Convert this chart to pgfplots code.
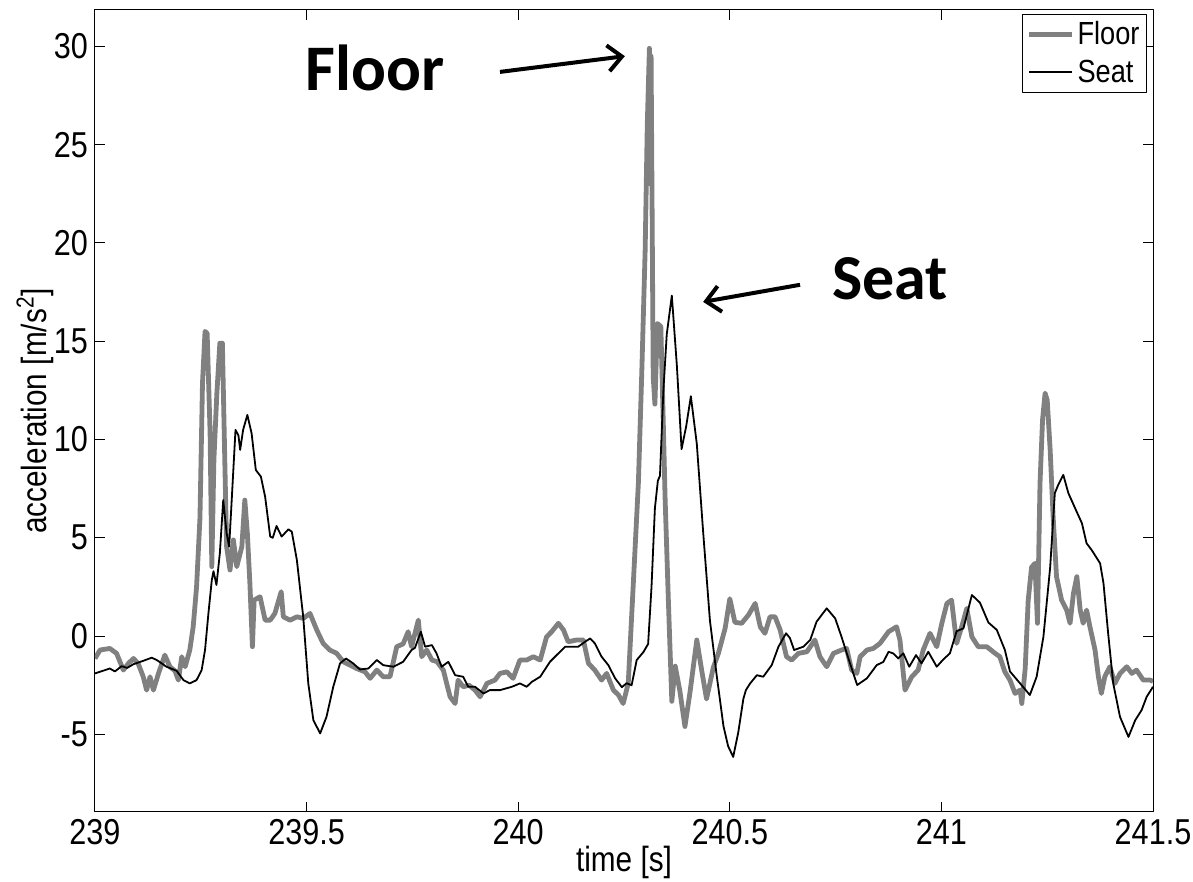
\documentclass[border=0pt]{standalone}
\usepackage{pgfplots}
\pgfplotsset{compat=1.18}
\usepackage{fontspec}
\setmainfont[FakeStretch=0.85]{Liberation Sans}
\newfontfamily\annot{Carlito}
\usetikzlibrary{arrows.meta}
\definecolor{floorgray}{RGB}{128,128,128}
\begin{document}
\begin{tikzpicture}
\begin{axis}[
  scale only axis, width=529pt, height=401pt,
  xmin=239, xmax=241.5, ymin=-8.95, ymax=31.85,
  xtick={239,239.5,240,240.5,241,241.5},
  xticklabels={239,239.5,240,240.5,241,241.5},
  ytick={-5,0,5,10,15,20,25,30},
  yticklabels={-5,0,5,10,15,20,25,30},
  tick align=inside, major tick length=5pt,
  tick style={black, line width=0.5pt},
  axis line style={black, line width=0.5pt},
  tick label style={font=\fontsize{18}{21}\selectfont},
  xlabel={time [s]},
  ylabel={acceleration [m/s\textsuperscript{2}]},
  label style={font=\fontsize{17.5}{20}\selectfont},
  xlabel style={at={(axis description cs:0.5,-0.0623)}, anchor=center},
  ylabel style={at={(axis description cs:-0.0567,0.5)}, anchor=center},
  legend style={at={(rel axis cs:0.9943,0.995)}, anchor=north east,
    draw=black, line width=0.5pt, fill=white, inner sep=2pt,
    font=\fontsize{16}{19}\selectfont, row sep=3pt,
    nodes={inner sep=1.5pt}},
  legend cell align=left,
  legend image code/.code={\draw[#1] (0pt,0pt) -- (21.5pt,0pt);},
  line join=round,
]
\addplot[floorgray, line width=2.4pt] coordinates {
(239.000,-1.14) (239.012,-0.71) (239.035,-0.63) (239.051,-0.88) (239.067,-1.73)
(239.079,-1.39) (239.091,-1.14) (239.102,-1.40) (239.114,-2.07) (239.122,-2.75)
(239.130,-2.07) (239.138,-2.75) (239.150,-1.90) (239.165,-0.97) (239.177,-1.56)
(239.189,-1.77) (239.197,-2.24) (239.205,-1.05) (239.213,-1.56) (239.224,-0.71)
(239.232,0.47) (239.240,2.50) (239.248,6.00) (239.254,12.87) (239.260,15.50)
(239.265,15.40) (239.272,10.32) (239.276,3.53) (239.281,9.00) (239.288,12.36)
(239.295,14.90) (239.301,14.90) (239.307,8.62) (239.311,4.55) (239.319,3.36)
(239.327,4.89) (239.335,3.53) (239.347,4.55) (239.354,6.92) (239.360,5.23)
(239.366,2.68) (239.372,-0.54) (239.376,1.83) (239.390,2.00) (239.402,0.81)
(239.414,0.81) (239.425,1.15) (239.440,2.26) (239.445,0.98) (239.461,0.81)
(239.477,0.98) (239.492,0.90) (239.508,1.15) (239.524,0.31) (239.539,-0.37)
(239.555,-0.71) (239.571,-0.88) (239.587,-1.31) (239.603,-1.48) (239.618,-1.65)
(239.638,-1.82) (239.650,-2.15) (239.666,-1.73) (239.681,-2.07) (239.697,-2.07)
(239.713,-0.54) (239.728,-0.40) (239.740,0.22) (239.748,-0.54) (239.764,0.81)
(239.772,-1.05) (239.784,-0.71) (239.796,-1.22) (239.808,-1.30) (239.823,-1.73)
(239.831,-2.41) (239.839,-3.09) (239.851,-3.43) (239.858,-2.24) (239.870,-2.58)
(239.884,-2.50) (239.898,-2.75) (239.910,-3.09) (239.926,-2.41) (239.945,-2.24)
(239.957,-1.90) (239.973,-1.82) (239.988,-2.15) (240.004,-1.22) (240.020,-1.22)
(240.036,-1.05) (240.052,-1.22) (240.067,-0.04) (240.079,0.22) (240.095,0.65)
(240.107,0.31) (240.118,-0.29) (240.138,-0.20) (240.154,-0.20) (240.166,-1.39)
(240.181,-1.73) (240.197,-2.24) (240.209,-1.90) (240.225,-2.75) (240.237,-3.00)
(240.248,-3.43) (240.260,-2.41) (240.268,0.98) (240.276,4.38) (240.284,7.80)
(240.292,13.40) (240.300,19.65) (240.305,26.00) (240.310,29.90) (240.312,23.00)
(240.314,29.50) (240.319,13.20) (240.323,11.80) (240.329,15.90) (240.337,15.75)
(240.343,10.68) (240.347,7.09) (240.355,1.70) (240.363,-3.32) (240.371,-1.53)
(240.382,-2.79) (240.394,-4.60) (240.406,-2.85) (240.422,-0.20) (240.434,-1.80)
(240.445,-3.20) (240.461,-1.60) (240.473,-0.88) (240.489,0.40) (240.500,1.90)
(240.512,0.70) (240.528,0.65) (240.544,1.07) (240.560,1.66) (240.572,0.47)
(240.583,0.14) (240.595,0.98) (240.607,0.98) (240.619,0.31) (240.634,-1.05)
(240.646,-1.22) (240.662,-0.88) (240.682,-0.80) (240.701,-0.20) (240.713,-1.05)
(240.729,-1.56) (240.745,-0.88) (240.764,-0.71) (240.776,-0.63) (240.788,-1.73)
(240.800,-1.90) (240.808,-1.05) (240.824,-0.71) (240.839,-0.63) (240.855,-0.37)
(240.875,0.22) (240.894,0.47) (240.902,-0.20) (240.914,-2.75) (240.930,-2.07)
(240.945,-1.73) (240.957,-0.71) (240.973,0.14) (240.989,-0.54) (241.001,0.65)
(241.013,1.66) (241.024,1.83) (241.036,-0.37) (241.048,0.47) (241.060,1.41)
(241.072,-0.04) (241.087,-0.54) (241.107,-0.54) (241.127,-0.88) (241.138,-1.05)
(241.150,-1.82) (241.162,-2.24) (241.174,-2.92) (241.186,-2.75) (241.190,-3.43)
(241.198,-1.65) (241.205,1.80) (241.213,3.50) (241.221,3.70) (241.227,0.65)
(241.233,7.78) (241.239,11.00) (241.245,12.36) (241.250,12.00) (241.257,9.47)
(241.264,6.07) (241.272,3.02) (241.284,1.83) (241.296,1.32) (241.304,0.65)
(241.312,2.17) (241.320,3.02) (241.328,1.32) (241.335,0.65) (241.343,1.32)
(241.351,0.47) (241.363,-0.71) (241.371,-2.07) (241.378,-2.92) (241.386,-2.07)
(241.398,-1.56) (241.410,-2.41) (241.422,-1.90) (241.438,-1.56) (241.450,-1.90)
(241.461,-1.73) (241.477,-2.24) (241.493,-2.24) (241.500,-2.30)
};
\addlegendentry{Floor}
\addplot[black, line width=0.9pt] coordinates {
(239.000,-1.90) (239.024,-1.73) (239.035,-1.65) (239.047,-1.80) (239.063,-1.53)
(239.076,-1.62) (239.091,-1.43) (239.114,-1.26) (239.134,-1.10) (239.146,-1.22)
(239.169,-1.56) (239.193,-1.77) (239.209,-2.24) (239.224,-2.41) (239.240,-2.24)
(239.252,-1.73) (239.260,-0.71) (239.268,1.15) (239.276,2.85) (239.280,3.30)
(239.287,2.60) (239.295,4.21) (239.303,6.92) (239.311,5.23) (239.317,4.55)
(239.323,6.90) (239.332,10.49) (239.339,10.20) (239.343,9.47) (239.350,10.49)
(239.360,11.25) (239.370,10.32) (239.380,8.45) (239.392,8.11) (239.402,7.09)
(239.414,5.06) (239.420,5.00) (239.429,5.60) (239.441,5.06) (239.457,5.43)
(239.465,5.31) (239.477,3.87) (239.492,0.98) (239.504,-2.41) (239.516,-4.28)
(239.532,-4.95) (239.547,-4.11) (239.563,-2.58) (239.579,-1.39) (239.593,-1.14)
(239.610,-1.39) (239.626,-1.70) (239.646,-1.65) (239.666,-1.22) (239.681,-1.48)
(239.705,-1.56) (239.728,-1.31) (239.748,-0.71) (239.756,-0.60) (239.770,0.22)
(239.780,-0.54) (239.796,-0.46) (239.807,-0.88) (239.819,-1.56) (239.835,-1.31)
(239.851,-1.99) (239.870,-2.07) (239.882,-2.58) (239.898,-2.58) (239.918,-2.92)
(239.933,-2.75) (239.957,-2.75) (239.985,-2.58) (240.004,-2.41) (240.020,-2.58)
(240.032,-2.33) (240.052,-2.07) (240.075,-1.31) (240.095,-0.88) (240.111,-0.54)
(240.142,-0.54) (240.158,-0.29) (240.170,-0.12) (240.181,-0.37) (240.197,-1.05)
(240.213,-1.48) (240.229,-2.15) (240.245,-2.60) (240.256,-2.40) (240.268,-2.50)
(240.280,-1.22) (240.296,-0.81) (240.307,-0.40) (240.315,2.50) (240.323,6.50)
(240.330,7.90) (240.335,8.16) (240.343,12.47) (240.351,15.35) (240.363,17.32)
(240.375,13.73) (240.386,9.51) (240.397,10.68) (240.408,12.20) (240.422,9.78)
(240.437,5.30) (240.453,0.80) (240.469,-2.00) (240.485,-4.58) (240.496,-5.60)
(240.508,-6.15) (240.520,-4.90) (240.532,-3.20) (240.538,-2.75) (240.548,-2.41)
(240.564,-1.99) (240.579,-2.07) (240.599,-1.48) (240.615,-0.54) (240.633,0.14)
(240.642,-0.10) (240.652,-0.71) (240.674,-0.54) (240.690,-0.20) (240.705,0.73)
(240.729,1.41) (240.749,0.90) (240.764,-0.04) (240.784,-1.39) (240.801,-2.49)
(240.824,-2.15) (240.847,-1.48) (240.863,-1.31) (240.875,-0.80) (240.886,-0.88)
(240.898,-1.14) (240.910,-0.88) (240.924,-1.56) (240.940,-0.97) (240.953,-1.39)
(240.969,-0.80) (240.989,-1.56) (241.004,-1.20) (241.020,-0.88) (241.036,0.25)
(241.052,0.39) (241.072,2.09) (241.091,1.70) (241.111,0.69) (241.131,0.31)
(241.150,-0.71) (241.162,-1.80) (241.186,-2.41) (241.209,-3.00) (241.225,-2.07)
(241.241,-0.04) (241.257,3.50) (241.268,7.27) (241.276,7.69) (241.288,8.20)
(241.300,7.27) (241.316,6.50) (241.332,5.74) (241.343,4.72) (241.355,4.38)
(241.375,3.70) (241.383,2.68) (241.394,0.14) (241.406,-2.41) (241.422,-4.11)
(241.442,-5.13) (241.458,-4.28) (241.473,-3.77) (241.485,-3.09) (241.500,-2.58)
};
\addlegendentry{Seat}
\node[font=\annot\bfseries\fontsize{32.5}{38}\selectfont] at (axis cs:239.662,28.9) {Floor};
\node[font=\annot\bfseries\fontsize{32}{38}\selectfont] at (axis cs:240.879,18.2) {Seat};
\draw[line width=2pt, -{Straight Barb[length=7pt,width=13pt]}] (axis cs:239.957,28.7) -- (axis cs:240.252,29.5);
\draw[line width=2pt, -{Straight Barb[length=7pt,width=13pt]}] (axis cs:240.666,17.87) -- (axis cs:240.437,17.0);
\end{axis}
\pgfresetboundingbox
\path ([shift={(-47.5pt,-35pt)}]current axis.south west) rectangle ([shift={(20pt,5pt)}]current axis.north east);
\end{tikzpicture}
\end{document}
